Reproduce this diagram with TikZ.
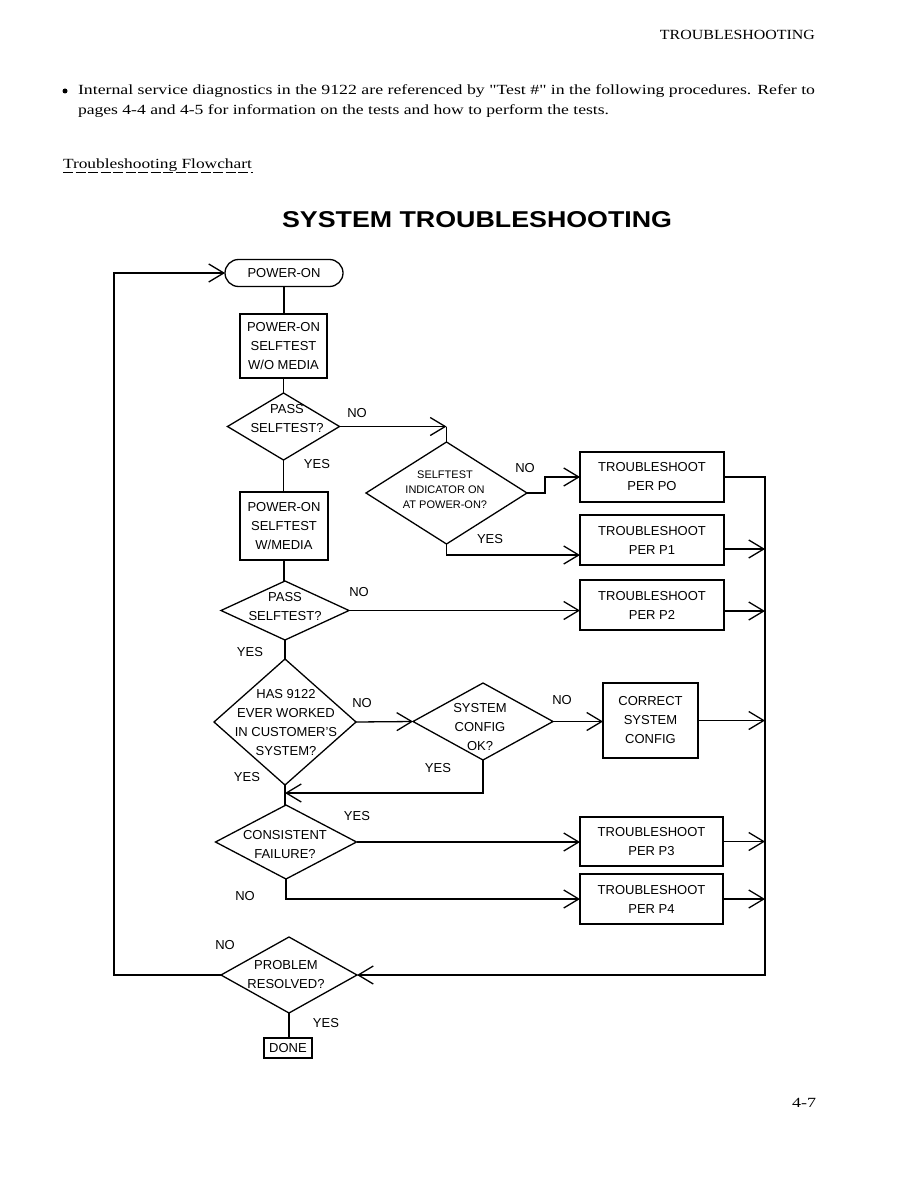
\documentclass[tikz,border=0pt]{standalone}
\usepackage{fontspec}
\setmainfont{Liberation Serif}
\setsansfont{Liberation Sans}
\newfontfamily\plainserif{Liberation Serif}[Ligatures=TeXOff]
\usetikzlibrary{arrows.meta,shapes.geometric,calc}
\newcommand\flowfont{\sffamily\fontsize{13}{19}\selectfont}
\newcommand\smallflow{\sffamily\fontsize{11}{15}\selectfont}
\newcommand\bodyfont{\plainserif\fontsize{14}{14}\selectfont}
\begin{document}
\begin{tikzpicture}[x=1pt,y=-1pt,
  every node/.style={inner sep=0pt, outer sep=0pt},
  ln/.style={line width=1.3pt},
  arr/.style={ln, -{Straight Barb[length=15pt,width=18pt]}},
  box/.style={draw, line width=1.3pt, align=center, font=\flowfont},
  dia/.style={draw, line width=1.3pt, diamond, inner sep=0pt},
  dtxt/.style={align=center, font=\flowfont},
  lab/.style={font=\flowfont},
]
\useasboundingbox (0,0) rectangle (918,1188);
\fill[white] (0,0) rectangle (918,1188);

% page text
\node[anchor=base east] (hdr) at (815,40) {\resizebox{155pt}{\height}{\bodyfont TROUBLESHOOTING}};
\node[circle, fill, minimum size=5pt] (bul) at (65,91) {};
\node[anchor=base west] (l1) at (78,95) {\resizebox{737pt}{\height}{\bodyfont Internal service diagnostics in the 9122 are referenced by "Test \#" in the following procedures. Refer to}};
\node[anchor=base west] (l2) at (78,114) {\resizebox{531pt}{\height}{\bodyfont pages 4-4 and 4-5 for information on the tests and how to perform the tests.}};
\node[anchor=base west] (sub) at (63,168) {\resizebox{189pt}{\height}{\bodyfont Troubleshooting Flowchart}};
\coordinate (u1) at (63,172);
\coordinate (u2) at (253,172);
\draw[line width=0.9pt, dash pattern=on 10pt off 2.5pt] (u1) -- (u2);
\node[anchor=base west] (title) at (282,227) {\resizebox{390pt}{16pt}{\sffamily\bfseries SYSTEM TROUBLESHOOTING}};
\node[anchor=base east] (pg) at (816,1107) {\resizebox{24pt}{\height}{\bodyfont 4-7}};

% flowchart nodes
\node[draw, ln, rounded corners=13.5pt, minimum width=118pt, minimum height=27pt, font=\flowfont] (pwr) at (284,273) {POWER-ON};
\node[box, minimum width=87pt, minimum height=64pt] (b1) at (283.5,346) {POWER-ON\\SELFTEST\\W/O MEDIA};
\node[dia, minimum width=112pt, minimum height=67pt] (d1) at (283.5,426.5) {};
\node[dtxt] (d1t) at (287,419) {PASS\\SELFTEST?};
\node[dia, minimum width=161pt, minimum height=102pt] (d2) at (446.5,493) {};
\node[align=center, font=\smallflow] (d2t) at (445,490) {SELFTEST\\INDICATOR ON\\AT POWER-ON?};
\node[box, minimum width=144pt, minimum height=50pt] (p0) at (652,477) {TROUBLESHOOT\\PER PO};
\node[box, minimum width=144pt, minimum height=50pt] (p1) at (652,540) {TROUBLESHOOT\\PER P1};
\node[box, minimum width=144pt, minimum height=50pt] (p2) at (652,605) {TROUBLESHOOT\\PER P2};
\node[box, minimum width=88pt, minimum height=68pt] (b2) at (284,526) {POWER-ON\\SELFTEST\\W/MEDIA};
\node[dia, minimum width=128pt, minimum height=59pt] (d3) at (285,610.5) {};
\node[dtxt] (d3t) at (285,607) {PASS\\SELFTEST?};
\node[dia, minimum width=142pt, minimum height=126pt] (d4) at (285,722) {};
\node[dtxt] (d4t) at (286,723) {HAS 9122\\EVER WORKED\\IN CUSTOMER'S\\SYSTEM?};
\node[dia, minimum width=140pt, minimum height=77pt] (d5) at (483,721.5) {};
\node[dtxt] (d5t) at (480,727) {SYSTEM\\CONFIG\\OK?};
\node[box, minimum width=95pt, minimum height=75pt] (cc) at (650.5,720.5) {CORRECT\\SYSTEM\\CONFIG};
\node[dia, minimum width=141pt, minimum height=74pt] (d6) at (286,842) {};
\node[dtxt] (d6t) at (285,845) {CONSISTENT\\FAILURE?};
\node[box, minimum width=143pt, minimum height=49pt] (p3) at (651.5,841.5) {TROUBLESHOOT\\PER P3};
\node[box, minimum width=143pt, minimum height=50pt] (p4) at (651.5,899) {TROUBLESHOOT\\PER P4};
\node[dia, minimum width=136pt, minimum height=76pt] (d7) at (289,975) {};
\node[dtxt] (d7t) at (286,975) {PROBLEM\\RESOLVED?};
\node[box, minimum width=48pt, minimum height=20pt] (done) at (288,1048) {DONE};

% labels
\node[lab] (n1) at (357,413) {NO};
\node[lab] (y1) at (317,464) {YES};
\node[lab] (n2) at (525,468) {NO};
\node[lab] (y2) at (490,539) {YES};
\node[lab] (n3) at (359,592) {NO};
\node[lab] (y3) at (250,652) {YES};
\node[lab] (n4) at (362,703) {NO};
\node[lab] (n5) at (562,700) {NO};
\node[lab] (y5) at (438,768) {YES};
\node[lab] (y4) at (247,777) {YES};
\node[lab] (y6) at (357,816) {YES};
\node[lab] (n6) at (245,896) {NO};
\node[lab] (n7) at (225,945) {NO};
\node[lab] (y7) at (326,1023) {YES};

% coordinates
\coordinate (c1) at (d1.east -| d2.north);
\coordinate (rb) at (765,975);
\coordinate (j) at (285,793);
\coordinate (lb) at (114,975);
\coordinate (lt) at (114,273);
\coordinate (p1o) at ($(p1.east)+(0,9)$);
\coordinate (p2o) at ($(p2.east)+(0,6)$);
\coordinate (p1i) at ($(p1.west)+(0,15)$);

% connectors
\draw[ln] (pwr.south) -- (pwr.south |- b1.north);
\draw[ln] (b1.south) -- (d1.north);
\draw[arr] (d1.east) -- (c1);
\draw[ln] (c1) -- (d2.north);
\draw[arr] (d2.east) -- ++(18,0) |- (p0.west);
\draw[arr] (d2.south) |- (p1i);
\draw[ln] (d1.south) -- (d1.south |- b2.north);
\draw[ln] (b2.south) -- (b2.south |- d3.north);
\draw[arr] (d3.east) -- (d3.east -| p2.west);
\draw[ln] (d3.south) -- (d4.north);
\draw[arr] (d4.east) -- (d5.west);
\draw[arr] (d5.east) -- (d5.east -| cc.west);
\draw[arr] (d5.south) |- (j);
\draw[ln] (d4.south) -- (d4.south |- d6.north);
\draw[arr] (d6.east) -- (d6.east -| p3.west);
\draw[arr] (d6.south) |- (p4.west);
\draw[arr] (p0.east) -| (rb) -- (d7.east);
\draw[arr] (p1o) -- (p1o -| rb);
\draw[arr] (p2o) -- (p2o -| rb);
\draw[arr] (cc.east) -- (cc.east -| rb);
\draw[arr] (p3.east) -- (p3.east -| rb);
\draw[arr] (p4.east) -- (p4.east -| rb);
\draw[arr] (d7.west) -- (lb) -- (lt) -- (pwr.west);
\draw[ln] (d7.south) -- (d7.south |- done.north);
\end{tikzpicture}
\end{document}
